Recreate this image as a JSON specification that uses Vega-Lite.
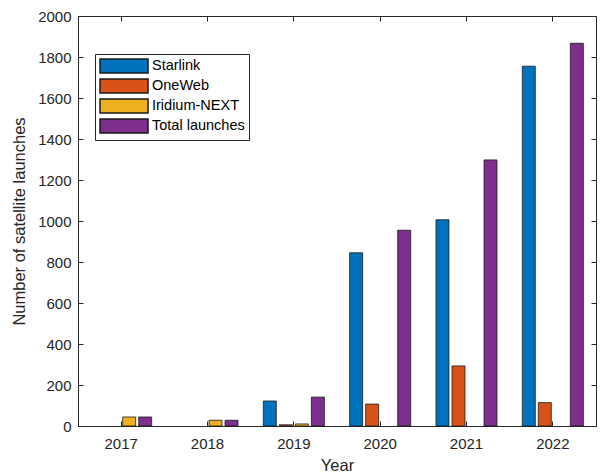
{
  "$schema": "https://vega.github.io/schema/vega-lite/v6.json",
  "width": 518,
  "height": 410,
  "autosize": {"type": "none"},
  "padding": {"left": 78, "top": 16, "right": 6, "bottom": 50},
  "background": "white",
  "config": {
    "font": "Liberation Sans",
    "view": {"stroke": "#262626", "strokeWidth": 1},
    "axis": {
      "domainColor": "#262626",
      "tickColor": "#262626",
      "labelColor": "#262626",
      "titleColor": "#262626",
      "grid": false,
      "tickSize": -5,
      "tickWidth": 1,
      "domainWidth": 1,
      "labelFontSize": 15,
      "titleFontSize": 16.5,
      "titleFontWeight": "normal",
      "labelFont": "Liberation Sans",
      "titleFont": "Liberation Sans"
    }
  },
  "data": {
    "values": [
      {"year": "2017", "series": "Starlink", "value": 0},
      {"year": "2017", "series": "OneWeb", "value": 0},
      {"year": "2017", "series": "Iridium-NEXT", "value": 44},
      {"year": "2017", "series": "Total launches", "value": 44},
      {"year": "2018", "series": "Starlink", "value": 0},
      {"year": "2018", "series": "OneWeb", "value": 0},
      {"year": "2018", "series": "Iridium-NEXT", "value": 28},
      {"year": "2018", "series": "Total launches", "value": 28},
      {"year": "2019", "series": "Starlink", "value": 122},
      {"year": "2019", "series": "OneWeb", "value": 6},
      {"year": "2019", "series": "Iridium-NEXT", "value": 10},
      {"year": "2019", "series": "Total launches", "value": 141},
      {"year": "2020", "series": "Starlink", "value": 845},
      {"year": "2020", "series": "OneWeb", "value": 107},
      {"year": "2020", "series": "Iridium-NEXT", "value": 0},
      {"year": "2020", "series": "Total launches", "value": 955},
      {"year": "2021", "series": "Starlink", "value": 1006},
      {"year": "2021", "series": "OneWeb", "value": 293},
      {"year": "2021", "series": "Iridium-NEXT", "value": 0},
      {"year": "2021", "series": "Total launches", "value": 1298},
      {"year": "2022", "series": "Starlink", "value": 1755},
      {"year": "2022", "series": "OneWeb", "value": 114},
      {"year": "2022", "series": "Iridium-NEXT", "value": 0},
      {"year": "2022", "series": "Total launches", "value": 1867}
    ]
  },
  "layer": [
    {
      "mark": {"type": "bar", "stroke": "#1a1a1a", "strokeWidth": 0.8},
      "encoding": {
        "x": {
          "field": "year",
          "type": "ordinal",
          "scale": {"paddingInner": 0, "paddingOuter": 0},
          "axis": {"title": "Year", "labelAngle": 0, "labelPadding": 15, "titlePadding": 6}
        },
        "xOffset": {
          "field": "series",
          "type": "nominal",
          "sort": ["Starlink", "OneWeb", "Iridium-NEXT", "Total launches"],
          "scale": {"paddingInner": 0.19, "paddingOuter": 0.79}
        },
        "y": {
          "field": "value",
          "type": "quantitative",
          "scale": {"domain": [0, 2000], "nice": false},
          "axis": {
            "title": "Number of satellite launches",
            "format": "d",
            "values": [0, 200, 400, 600, 800, 1000, 1200, 1400, 1600, 1800, 2000],
            "labelPadding": 12,
            "titlePadding": 10
          }
        },
        "strokeOpacity": {
          "condition": {"test": "datum.value == 0", "value": 0},
          "value": 1
        },
        "color": {
          "field": "series",
          "type": "nominal",
          "sort": ["Starlink", "OneWeb", "Iridium-NEXT", "Total launches"],
          "scale": {
            "domain": ["Starlink", "OneWeb", "Iridium-NEXT", "Total launches"],
            "range": ["#0072BD", "#D95319", "#EDB120", "#7E2F8E"]
          },
          "legend": {
            "orient": "none",
            "legendX": 17,
            "legendY": 38,
            "title": null,
            "strokeColor": "#262626",
            "fillColor": "white",
            "padding": 4,
            "symbolType": "M-1,-1H5.86V1H-1Z",
            "symbolSize": 196,
            "symbolStrokeColor": "#1a1a1a",
            "symbolOpacity": 1,
            "labelFontSize": 14.5,
            "labelFont": "Liberation Sans",
            "labelColor": "#000000",
            "labelOffset": 37,
            "rowPadding": 0
          }
        }
      }
    },
    {
      "mark": {"type": "bar", "opacity": 0},
      "encoding": {
        "x": {
          "field": "year",
          "type": "ordinal",
          "axis": {"orient": "top", "labels": false, "title": null, "domain": false}
        },
        "xOffset": {
          "field": "series",
          "type": "nominal",
          "sort": ["Starlink", "OneWeb", "Iridium-NEXT", "Total launches"]
        },
        "y": {
          "field": "value",
          "type": "quantitative",
          "axis": {
            "orient": "right",
            "labels": false,
            "title": null,
            "domain": false,
            "values": [0, 200, 400, 600, 800, 1000, 1200, 1400, 1600, 1800, 2000]
          }
        }
      }
    }
  ],
  "resolve": {"axis": {"x": "independent", "y": "independent"}}
}
